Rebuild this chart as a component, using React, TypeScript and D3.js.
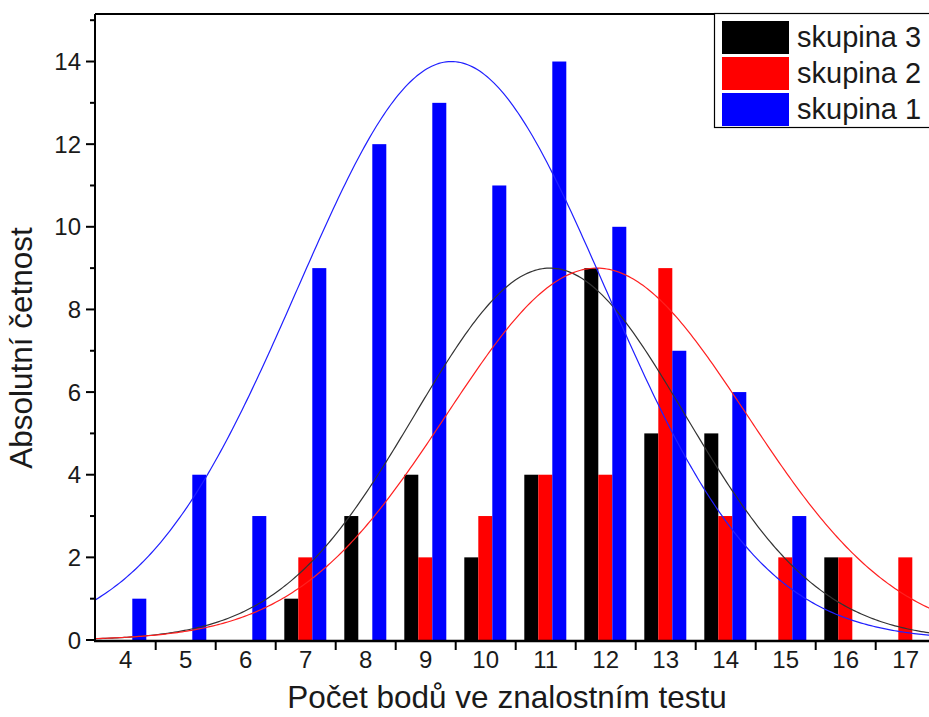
import * as d3 from "d3";
import { useEffect, useRef } from "react";

// score categories on the x axis
const categories = ["4", "5", "6", "7", "8", "9", "10", "11", "12", "13", "14", "15", "16", "17"];

// absolute frequencies per group
const skupina3 = [0, 0, 0, 1, 3, 4, 2, 4, 9, 5, 5, 0, 2, 0];
const skupina2 = [0, 0, 0, 2, 0, 2, 3, 4, 4, 9, 3, 2, 2, 2];
const skupina1 = [1, 4, 3, 9, 12, 13, 11, 14, 10, 7, 6, 3, 0, 0];

const seriesNames = ["skupina 3", "skupina 2", "skupina 1"];
const seriesColors = ["#000000", "#ff0000", "#0000ff"];

// normal curves: peak height, mean, sd
const curvePeak = [9, 9, 14];
const curveMean = [11.07, 11.85, 9.43];
const curveSd = [2.25, 2.5, 2.57];
const curveColors = ["#333333", "#ff2020", "#2020ff"];

const yTicks = [0, 2, 4, 6, 8, 10, 12, 14];
const yMinorTicks = [1, 3, 5, 7, 9, 11, 13, 15];

const App = () => {
    const svgRef = useRef(null);
    const width = 929;
    const height = 717;

    useEffect(() => {
        const svg = d3.select(svgRef.current);
        svg.selectAll("*").remove();

        const left = 95;
        const top = 14;
        const bottom = 640;
        const font = "Arial, 'Liberation Sans', sans-serif";

        const x = d3.scaleBand().domain(categories).range([left + 0.7, left + 0.7 + 60 * categories.length]).padding(0);
        const xInner = d3.scaleBand().domain(seriesNames).range([8.6, 50.6]);
        const xLin = d3
            .scaleLinear()
            .domain([4, 17])
            .range([x("4") + x.bandwidth() / 2, x("17") + x.bandwidth() / 2]);
        const y = d3.scaleLinear().domain([0, 15.15]).range([bottom, top]);

        svg.append("defs")
            .append("clipPath")
            .attr("id", "plotclip")
            .append("rect")
            .attr("x", left)
            .attr("y", top)
            .attr("width", width - left)
            .attr("height", bottom - top);

        const plot = svg.append("g").attr("clip-path", "url(#plotclip)");

        // bars
        const allSeries = [skupina3, skupina2, skupina1];
        allSeries.forEach((vals, si) => {
            plot.append("g")
                .selectAll("rect")
                .data(vals)
                .join("rect")
                .attr("x", (d, i) => x(categories[i]) + xInner(seriesNames[si]))
                .attr("y", (d) => y(d))
                .attr("width", xInner.bandwidth())
                .attr("height", (d) => bottom - y(d))
                .attr("fill", seriesColors[si]);
        });

        // fitted normal curves
        const xs = d3.range(3.3, 18.2, 0.04);
        curvePeak.forEach((peak, ci) => {
            const pts = xs.map((v) => [v, peak * Math.exp(-((v - curveMean[ci]) ** 2) / (2 * curveSd[ci] ** 2))]);
            const line = d3
                .line()
                .x((d) => xLin(d[0]))
                .y((d) => y(d[1]));
            plot.append("path")
                .datum(pts)
                .attr("fill", "none")
                .attr("stroke", curveColors[ci])
                .attr("stroke-width", 1.2)
                .attr("d", line);
        });

        // frame
        svg.append("line")
            .attr("x1", left).attr("x2", width)
            .attr("y1", top).attr("y2", top)
            .attr("stroke", "#000").attr("stroke-width", 2);

        // y axis
        const yAxis = svg.append("g");
        yAxis.append("line")
            .attr("x1", left).attr("x2", left)
            .attr("y1", top).attr("y2", bottom + 1)
            .attr("stroke", "#000").attr("stroke-width", 2);
        yAxis.selectAll(".major")
            .data(yTicks)
            .join("line")
            .attr("x1", left - 9).attr("x2", left)
            .attr("y1", (d) => y(d)).attr("y2", (d) => y(d))
            .attr("stroke", "#000").attr("stroke-width", 2);
        yAxis.selectAll(".minor")
            .data(yMinorTicks)
            .join("line")
            .attr("x1", left - 5).attr("x2", left)
            .attr("y1", (d) => y(d)).attr("y2", (d) => y(d))
            .attr("stroke", "#000").attr("stroke-width", 2);
        yAxis.selectAll("text")
            .data(yTicks)
            .join("text")
            .attr("x", left - 14)
            .attr("y", (d) => y(d) + 8.5)
            .attr("text-anchor", "end")
            .attr("font-family", font)
            .attr("font-size", 24)
            .attr("fill", "#1a1a1a")
            .text((d) => d);

        // x axis
        const xAxis = svg.append("g");
        xAxis.append("line")
            .attr("x1", left - 1).attr("x2", width)
            .attr("y1", bottom + 1).attr("y2", bottom + 1)
            .attr("stroke", "#000").attr("stroke-width", 2.5);
        xAxis.selectAll(".tick")
            .data(categories.slice(1).concat(["end"]))
            .join("line")
            .attr("x1", (d, i) => x(categories[0]) + 60 * (i + 1))
            .attr("x2", (d, i) => x(categories[0]) + 60 * (i + 1))
            .attr("y1", bottom + 1).attr("y2", bottom + 10)
            .attr("stroke", "#000").attr("stroke-width", 2);
        xAxis.selectAll("text")
            .data(categories)
            .join("text")
            .attr("x", (d) => x(d) + x.bandwidth() / 2)
            .attr("y", 668)
            .attr("text-anchor", "middle")
            .attr("font-family", font)
            .attr("font-size", 24)
            .attr("fill", "#1a1a1a")
            .text((d) => d);

        // axis titles
        svg.append("text")
            .attr("x", 507)
            .attr("y", 708)
            .attr("text-anchor", "middle")
            .attr("font-family", font)
            .attr("font-size", 31.5)
            .attr("fill", "#1a1a1a")
            .text("Počet bodů ve znalostním testu");
        svg.append("text")
            .attr("transform", "translate(32,348) rotate(-90)")
            .attr("text-anchor", "middle")
            .attr("font-family", font)
            .attr("font-size", 31.5)
            .attr("fill", "#1a1a1a")
            .text("Absolutní četnost");

        // legend
        const legend = svg.append("g");
        legend.append("rect")
            .attr("x", 714.5).attr("y", 13.5)
            .attr("width", 240).attr("height", 114)
            .attr("fill", "#fff")
            .attr("stroke", "#000").attr("stroke-width", 1.2);
        seriesNames.forEach((name, i) => {
            legend.append("rect")
                .attr("x", 722).attr("y", 21 + i * 36)
                .attr("width", 67).attr("height", 33)
                .attr("fill", seriesColors[i]);
            legend.append("text")
                .attr("x", 797).attr("y", 47 + i * 36)
                .attr("font-family", font)
                .attr("font-size", 29)
                .attr("fill", "#1a1a1a")
                .text(name);
        });
    }, []);

    return (
        <svg
            ref={svgRef}
            width={width}
            height={height}
            style={{ position: "absolute", left: 0, top: 0, background: "#fff" }}
        />
    );
};

export default App;
